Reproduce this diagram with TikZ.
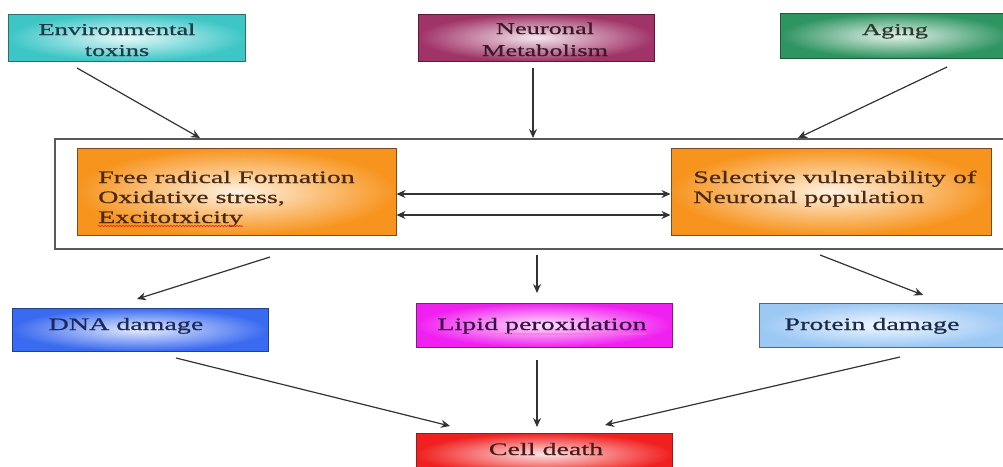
\documentclass[tikz,border=0pt]{standalone}
\usepackage{fontspec}
\setmainfont{Liberation Serif}[FakeStretch=1.6,FakeBold=0.8]
\usetikzlibrary{arrows.meta,decorations.pathmorphing}
\definecolor{envC}{HTML}{3EC6C6}
\definecolor{envB}{HTML}{2A6F70}
\definecolor{envT}{HTML}{1C3A48}
\definecolor{neuC}{HTML}{A03468}
\definecolor{neuB}{HTML}{5A1A38}
\definecolor{neuT}{HTML}{3A1A28}
\definecolor{agiC}{HTML}{2E9460}
\definecolor{agiB}{HTML}{1F5A3A}
\definecolor{agiT}{HTML}{2A3A30}
\definecolor{oraC}{HTML}{F7941E}
\definecolor{oraB}{HTML}{7A4A20}
\definecolor{oraT}{HTML}{4A2A12}
\definecolor{dnaC}{HTML}{3A6AF0}
\definecolor{dnaB}{HTML}{23408A}
\definecolor{dnaT}{HTML}{1A2A5A}
\definecolor{lipC}{HTML}{F020F0}
\definecolor{lipB}{HTML}{7A207A}
\definecolor{lipT}{HTML}{3A1040}
\definecolor{proC}{HTML}{9CC8F4}
\definecolor{proB}{HTML}{4A6A8A}
\definecolor{proT}{HTML}{1A2A4A}
\definecolor{celC}{HTML}{F02020}
\definecolor{celB}{HTML}{8A2020}
\definecolor{celT}{HTML}{4A1A1A}
\definecolor{arrC}{HTML}{333333}
\tikzset{
  box/.style={rectangle, draw=#1B, line width=1pt, inner sep=0pt,
    inner color=#1C!12!white, outer color=#1C},
  txt/.style={inner sep=0pt, font=\fontsize{17.5}{20}\selectfont},
  toptxt/.style={inner sep=0pt, font=\fontsize{16.5}{20}\selectfont},
  arr/.style={draw=arrC, line width=1.2pt, -{Stealth[length=9pt,width=8pt]}},
  arrtwo/.style={draw=arrC, line width=1.2pt, {Stealth[length=9pt,width=8pt]}-{Stealth[length=9pt,width=8pt]}},
  framebox/.style={rectangle, draw=black!65, line width=1.3pt, inner sep=0pt, fill=white},
  squiggle/.style={draw=red!55!brown, line width=0.8pt,
    decorate, decoration={snake, amplitude=0.6pt, segment length=3pt}}
}
\begin{document}
\begin{tikzpicture}[x=1pt,y=-1pt]
\useasboundingbox (0,0) rectangle (1003,466);
\clip (0,0) rectangle (1003,466);
\fill[white] (0,0) rectangle (1003,466);
% top row
\node[box=env, minimum width=237pt, minimum height=47pt] (env) at (126.5,37.5) {};
\node[box=neu, minimum width=236pt, minimum height=47pt] (neu) at (536,37.5) {};
\node[box=agi, minimum width=230pt, minimum height=45pt] (agi) at (895,35.5) {};
\node[toptxt, text=envT, anchor=base] (envA) at (117,35) {Environmental};
\node[toptxt, text=envT, anchor=base] (envB) at (117,56) {toxins};
\node[toptxt, text=neuT, anchor=base] (neuA) at (545,34) {Neuronal};
\node[toptxt, text=neuT, anchor=base] (neuB) at (545,56) {Metabolism};
\node[toptxt, text=agiT, anchor=base] (agiA) at (895,35) {Aging};
% frame and orange boxes
\node[framebox, minimum width=960pt, minimum height=110pt] (frame) at (535,194) {};
\node[box=ora, minimum width=319pt, minimum height=87pt] (fl) at (236.5,191.5) {};
\node[box=ora, minimum width=320pt, minimum height=87pt] (fr) at (831,191.5) {};
\node[txt, text=oraT, anchor=base west] (flA) at (98,183) {Free radical Formation};
\node[txt, text=oraT, anchor=base west] (flB) at (98,203) {Oxidative stress,};
\node[txt, text=oraT, anchor=base west] (flC) at (98,223) {Excitotxicity};
\draw[squiggle] ([yshift=-3pt]flC.base west) -- ([yshift=-3pt]flC.base east);
\node[txt, text=oraT, anchor=base west] (frA) at (693,183) {Selective vulnerability of};
\node[txt, text=oraT, anchor=base west] (frB) at (693,203) {Neuronal population};
% third row
\node[box=dna, minimum width=256pt, minimum height=43pt] (dna) at (140,329.5) {};
\node[box=lip, minimum width=256pt, minimum height=44pt] (lip) at (544,325) {};
\node[box=pro, minimum width=251pt, minimum height=44pt] (pro) at (884.5,325) {};
\node[txt, text=dnaT, anchor=base] (dnaA) at (126,330) {DNA damage};
\node[txt, text=lipT, anchor=base] (lipA) at (542,330) {Lipid peroxidation};
\draw[squiggle, draw=red!25!lipC!60!white, line width=0.6pt] ([yshift=-4pt, xshift=54pt]lipA.base west) -- ([yshift=-4pt]lipA.base east);
\node[txt, text=proT, anchor=base] (proA) at (872,330) {Protein damage};
% cell death
\node[box=cel, minimum width=256pt, minimum height=42pt] (cel) at (544,454) {};
\node[txt, text=celT, anchor=base] (celA) at (546,455) {Cell death};
% arrow end points
\coordinate (e1) at (77,68);   \coordinate (e2) at (200,138);
\coordinate (n1) at (533,68);  \coordinate (n2) at (533,138);
\coordinate (a1) at (947,67);  \coordinate (a2) at (798,138);
\coordinate (y1) at (0,194);   \coordinate (y2) at (0,215);
\coordinate (d1) at (270,257); \coordinate (d2) at (137,299);
\coordinate (l1) at (537,255); \coordinate (l2) at (537,293);
\coordinate (p1) at (820,255); \coordinate (p2) at (923,295);
\coordinate (c1) at (176,358); \coordinate (c2) at (450,426);
\coordinate (c3) at (537,360); \coordinate (c4) at (537,427);
\coordinate (c5) at (900,357); \coordinate (c6) at (605,425);
% arrows
\draw[arr] (e1) -- (e2);
\draw[arr] (n1) -- (n2);
\draw[arr] (a1) -- (a2);
\draw[arrtwo] (fl.east |- y1) -- (fr.west |- y1);
\draw[arrtwo] (fl.east |- y2) -- (fr.west |- y2);
\draw[arr] (d1) -- (d2);
\draw[arr] (l1) -- (l2);
\draw[arr] (p1) -- (p2);
\draw[arr] (c1) -- (c2);
\draw[arr] (c3) -- (c4);
\draw[arr] (c5) -- (c6);
\end{tikzpicture}
\end{document}
